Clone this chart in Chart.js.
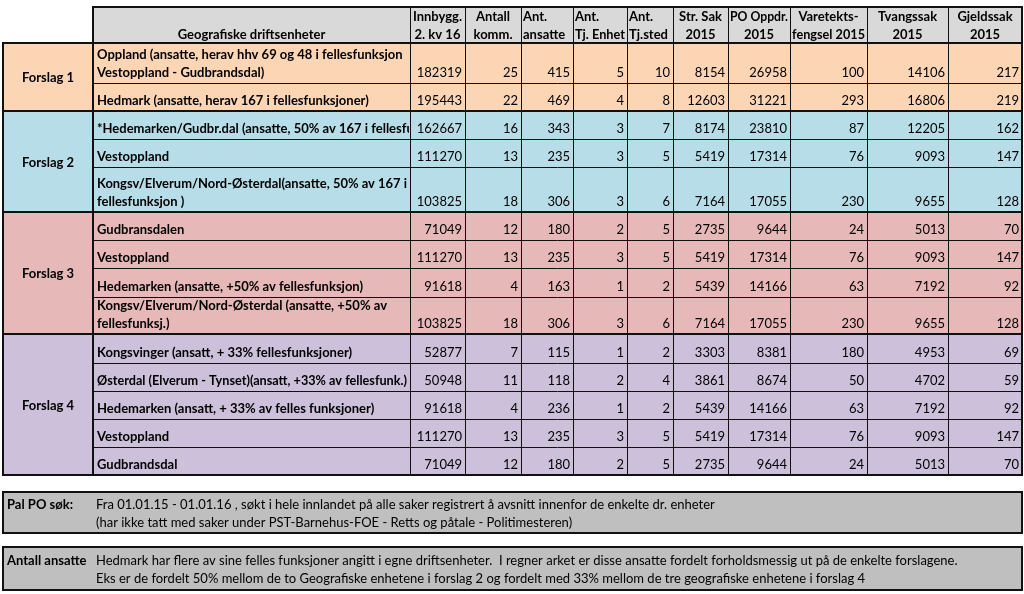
<!DOCTYPE html>
<html>
<head>
<meta charset="utf-8">
<script src="https://cdn.jsdelivr.net/npm/chart.js@4.4.0/dist/chart.umd.min.js"></script>
<style>
body { margin: 0; background: #fff; }
</style>
</head>
<body>
<canvas id="myChart" width="1024" height="594"></canvas>
<script>
// data
var groups = ['Forslag 1', 'Forslag 2', 'Forslag 3', 'Forslag 4'];
var groupOfRow = [0, 0, 1, 1, 1, 2, 2, 2, 2, 3, 3, 3, 3, 3];
var unitHeader = 'Geografiske driftsenheter';
var units = [
    'Oppland (ansatte, herav hhv 69 og 48 i fellesfunksjon\nVestoppland - Gudbrandsdal)',
    'Hedmark (ansatte, herav 167 i fellesfunksjoner)',
    '*Hedemarken/Gudbr.dal (ansatte, 50% av 167 i fellesfunksjoner)',
    'Vestoppland',
    'Kongsv/Elverum/Nord-Østerdal(ansatte, 50% av 167 i\nfellesfunksjon )',
    'Gudbransdalen',
    'Vestoppland',
    'Hedemarken (ansatte, +50% av fellesfunksjon)',
    'Kongsv/Elverum/Nord-Østerdal (ansatte, +50% av\nfellesfunksj.)',
    'Kongsvinger (ansatt, + 33% fellesfunksjoner)',
    'Østerdal (Elverum - Tynset)(ansatt, +33% av fellesfunk.)',
    'Hedemarken (ansatt, + 33% av felles funksjoner)',
    'Vestoppland',
    'Gudbrandsdal'
];
var headers = [
    ['Innbygg.', '2. kv 16'],
    ['Antall', 'komm.'],
    ['Ant.', 'ansatte'],
    ['Ant.', 'Tj. Enhet'],
    ['Ant.', 'Tj.sted'],
    ['Str. Sak', '2015'],
    ['PO Oppdr.', '2015'],
    ['Varetekts-', 'fengsel 2015'],
    ['Tvangssak', '2015'],
    ['Gjeldssak', '2015']
];
var innbygg   = [182319, 195443, 162667, 111270, 103825, 71049, 111270, 91618, 103825, 52877, 50948, 91618, 111270, 71049];
var komm      = [25, 22, 16, 13, 18, 12, 13, 4, 18, 7, 11, 4, 13, 12];
var ansatte   = [415, 469, 343, 235, 306, 180, 235, 163, 306, 115, 118, 236, 235, 180];
var tjEnhet   = [5, 4, 3, 3, 3, 2, 3, 1, 3, 1, 2, 1, 3, 2];
var tjSted    = [10, 8, 7, 5, 6, 5, 5, 2, 6, 2, 4, 2, 5, 5];
var strSak    = [8154, 12603, 8174, 5419, 7164, 2735, 5419, 5439, 7164, 3303, 3861, 5439, 5419, 2735];
var poOppdr   = [26958, 31221, 23810, 17314, 17055, 9644, 17314, 14166, 17055, 8381, 8674, 14166, 17314, 9644];
var varetekt  = [100, 293, 87, 76, 230, 24, 76, 63, 230, 180, 50, 63, 76, 24];
var tvangssak = [14106, 16806, 12205, 9093, 9655, 5013, 9093, 7192, 9655, 4953, 4702, 7192, 9093, 5013];
var gjeldssak = [217, 219, 162, 147, 128, 70, 147, 92, 128, 69, 59, 92, 147, 70];
var valueColumns = [innbygg, komm, ansatte, tjEnhet, tjSted, strSak, poOppdr, varetekt, tvangssak, gjeldssak];

var noteLabels = ['Pal PO søk:', 'Antall ansatte'];
var noteLines = [
    ['Fra 01.01.15 - 01.01.16 , søkt i hele innlandet på alle saker registrert å avsnitt innenfor de enkelte dr. enheter',
     '(har ikke tatt med saker under PST-Barnehus-FOE - Retts og påtale - Politimesteren)'],
    ['Hedmark har flere av sine felles funksjoner angitt i egne driftsenheter.  I regner arket er disse ansatte fordelt forholdsmessig ut på de enkelte forslagene.',
     'Eks er de fordelt 50% mellom de to Geografiske enhetene i forslag 2 og fordelt med 33% mellom de tre geografiske enhetene i forslag 4']
];

// layout + style
var colEdges = [3, 93, 410, 465, 521, 573, 627, 673, 728, 790, 867, 948, 1022];
var rowEdges = [7, 43, 83, 111, 139, 167, 212, 240, 268, 297, 334, 363, 391, 419, 447, 475];
var noteBoxes = [[492, 533], [547, 590]];
var headerAlign = ['center', 'center', 'left', 'left', 'left', 'center', 'center', 'center', 'center', 'center'];
var groupColors = ['#fcd5b4', '#b7dee8', '#e6b8b7', '#ccc0da'];
var headerColor = '#d9d9d9';
var noteColor = '#bfbfbf';
var fontFamily = 'Lato';
var fontSize = 13;

var tablePlugin = {
    id: 'table',
    afterDraw: function (chart) {
        var ctx = chart.ctx;
        var xs = chart.scales.x;
        var ys = chart.scales.y;
        function X(v) { return xs.getPixelForValue(v); }
        function Y(v) { return ys.getPixelForValue(v); }
        var left = X(colEdges[0]), right = X(colEdges[colEdges.length - 1]);

        function fillRect(x0, y0, x1, y1, color) {
            ctx.fillStyle = color;
            ctx.fillRect(x0, y0, x1 - x0, y1 - y0);
        }
        function hline(y, x0, x1, w) {
            var yy = w % 2 ? Math.round(y) + 0.5 : Math.round(y);
            ctx.lineWidth = w;
            ctx.beginPath();
            ctx.moveTo(x0, yy);
            ctx.lineTo(x1, yy);
            ctx.stroke();
        }
        function vline(x, y0, y1, w) {
            var xx = w % 2 ? Math.round(x) + 0.5 : Math.round(x);
            ctx.lineWidth = w;
            ctx.beginPath();
            ctx.moveTo(xx, y0);
            ctx.lineTo(xx, y1);
            ctx.stroke();
        }
        // maxW: squeeze text a little if it only just overflows (Calibri is narrower than Lato)
        function text(str, x, y, align, bold, maxW) {
            ctx.font = (bold ? 'bold ' : '') + fontSize + 'px ' + fontFamily;
            ctx.textAlign = align;
            ctx.textBaseline = 'alphabetic';
            ctx.fillStyle = '#000';
            var w = ctx.measureText(str).width;
            if (maxW && w > maxW && w < maxW * 1.08) {
                ctx.fillText(str, x, y, maxW);
            } else {
                ctx.fillText(str, x, y);
            }
        }

        ctx.save();

        // header background
        var hTop = Y(rowEdges[0]), hBot = Y(rowEdges[1]);
        fillRect(X(colEdges[1]), hTop, right, hBot, headerColor);

        // row backgrounds + group label cells
        var groupSpan = groups.map(function () { return [Infinity, -Infinity]; });
        groupOfRow.forEach(function (g, i) {
            var y0 = Y(rowEdges[i + 1]), y1 = Y(rowEdges[i + 2]);
            fillRect(X(colEdges[1]), y0, right, y1, groupColors[g]);
            groupSpan[g][0] = Math.min(groupSpan[g][0], y0);
            groupSpan[g][1] = Math.max(groupSpan[g][1], y1);
        });
        groupSpan.forEach(function (s, g) {
            fillRect(left, s[0], X(colEdges[1]), s[1], groupColors[g]);
        });

        // grid lines
        ctx.strokeStyle = '#111';
        var tableBot = Y(rowEdges[rowEdges.length - 1]);
        for (var c = 2; c < colEdges.length - 1; c++) {
            vline(X(colEdges[c]), hTop, tableBot, 1);
        }
        for (var r = 2; r < rowEdges.length - 1; r++) {
            hline(Y(rowEdges[r]), X(colEdges[1]), right, 1);
        }
        // thick borders
        hline(hTop, X(colEdges[1]) - 1, right + 1, 2);
        hline(hBot, left - 1, right + 1, 2);
        groupSpan.forEach(function (s) {
            hline(s[1], left - 1, right + 1, 2);
        });
        vline(left, hBot, tableBot, 2);
        vline(X(colEdges[1]), hTop, tableBot, 2);
        vline(right, hTop, tableBot, 2);

        // header text
        text(unitHeader, (X(colEdges[1]) + X(colEdges[2])) / 2, Y(39), 'center', true);
        headers.forEach(function (h, i) {
            var x0 = X(colEdges[i + 2]), x1 = X(colEdges[i + 3]);
            var align = headerAlign[i];
            var x = align === 'left' ? x0 + 2 : (x0 + x1) / 2;
            var maxW = x1 - x0 - 4;
            text(h[0], x, Y(21), align, true, maxW);
            text(h[1], x, Y(39), align, true, maxW);
        });

        // group labels
        groupSpan.forEach(function (s, g) {
            text(groups[g], (left + X(colEdges[1])) / 2, (s[0] + s[1]) / 2 + 5, 'center', true);
        });

        // rows
        units.forEach(function (name, i) {
            var y0 = Y(rowEdges[i + 1]), y1 = Y(rowEdges[i + 2]);
            var base = y1 - 6;
            var lines = name.split('\n');
            var nameW = X(colEdges[2]) - X(colEdges[1]) - 7;
            ctx.save();
            ctx.beginPath();
            ctx.rect(X(colEdges[1]), y0, X(colEdges[2]) - X(colEdges[1]) - 1, y1 - y0);
            ctx.clip();
            lines.forEach(function (ln, k) {
                text(ln, X(colEdges[1]) + 4, base - (lines.length - 1 - k) * 18, 'left', true, nameW);
            });
            ctx.restore();
            valueColumns.forEach(function (col, c) {
                text(String(col[i]), X(colEdges[c + 3]) - 3, base, 'right', false);
            });
        });

        // notes
        noteBoxes.forEach(function (b, n) {
            var y0 = Y(b[0]), y1 = Y(b[1]);
            fillRect(left, y0, right, y1, noteColor);
            ctx.strokeStyle = '#111';
            ctx.lineWidth = 2;
            ctx.strokeRect(left, y0, right - left, y1 - y0);
            var mid = (y0 + y1) / 2;
            text(noteLabels[n], left + 4, mid - 4, 'left', true);
            noteLines[n].forEach(function (ln, k) {
                text(ln, X(96), mid - 4 + k * 18, 'left', false);
            });
        });

        ctx.restore();
    }
};

var chart = new Chart(document.getElementById('myChart').getContext('2d'), {
    type: 'scatter',
    data: { datasets: [] },
    options: {
        responsive: false,
        animation: false,
        devicePixelRatio: 1,
        layout: { padding: 0 },
        plugins: {
            legend: { display: false },
            tooltip: { enabled: false }
        },
        scales: {
            x: { type: 'linear', min: 0, max: 1024, display: false },
            y: { type: 'linear', min: 0, max: 594, reverse: true, display: false }
        }
    },
    plugins: [tablePlugin]
});
</script>
</body>
</html>
